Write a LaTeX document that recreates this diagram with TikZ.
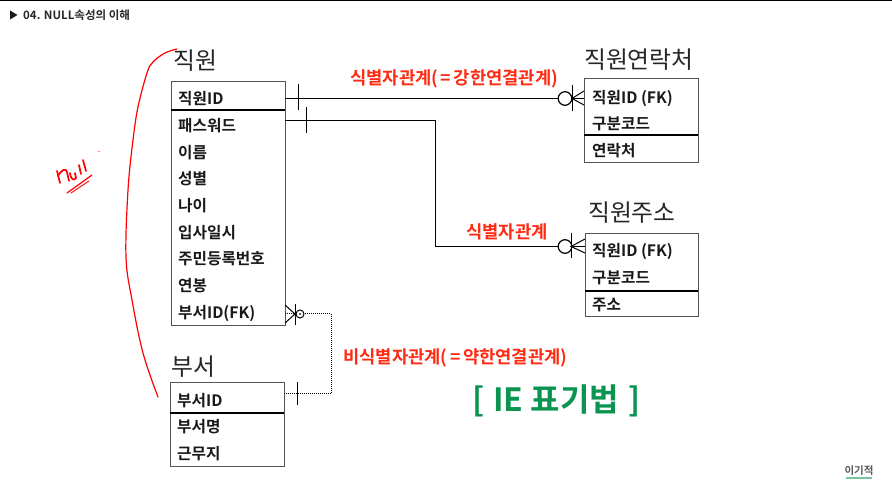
\documentclass[tikz,border=0pt]{standalone}
\usepackage{fontspec}
\setmainfont{Noto Sans CJK KR}[BoldFont={Noto Sans CJK KR Bold}]
\usetikzlibrary{calc}
\definecolor{relred}{HTML}{FF2A12}
\definecolor{iegreen}{HTML}{0B9350}
\definecolor{boxgray}{HTML}{555555}
\tikzset{
  box/.style={draw=boxgray,line width=1pt,inner sep=0pt,anchor=north west,fill=white},
  sep/.style={line width=2.6pt,black},
  title/.style={anchor=west,inner sep=0pt,font=\fontsize{23.8}{26}\selectfont,text=black!85},
  row/.style={anchor=west,inner sep=0pt,font=\fontsize{15.7}{18}\selectfont\bfseries,text=black!90},
  rel/.style={draw=black,line width=1pt},
  rellabel/.style={anchor=west,inner sep=0pt,font=\fontsize{17.7}{20}\selectfont\bfseries,text=relred},
  tick/.style={draw=black,line width=1pt},
  weak/.style={draw=black,line width=1pt,dash pattern=on 1pt off 1pt},
  stroke/.style={draw=red,line width=1.2pt,line cap=round,line join=round},
  nullstroke/.style={draw=red,line width=1.7pt,line cap=round,line join=round},
  thin stroke/.style={draw=red,line width=.9pt,line cap=round}
}
\begin{document}
\begin{tikzpicture}[x=1pt,y=-1pt]
\useasboundingbox (0,0) rectangle (892,502);
\draw[black,line width=1.2pt] (0,0.5) -- (892,0.5);
\fill[black!90] (10,10.5) -- (17.5,15) -- (10,19.5) -- cycle;
\node[anchor=west,inner sep=0pt,font=\fontsize{11.5}{13}\selectfont\bfseries,text=black!85] (head) at (23,15) {04. NULL속성의 이해};

% entities
\node[box,minimum width=114pt,minimum height=244pt] (emp) at (171,81) {};
\node[box,minimum width=114pt,minimum height=84pt] (con) at (584,78) {};
\node[box,minimum width=113pt,minimum height=83pt] (adr) at (585,233) {};
\node[box,minimum width=114pt,minimum height=84pt] (dep) at (170,382) {};
\draw[sep] (171,110) -- (285,110);
\draw[sep] (584,135) -- (698,135);
\draw[sep] (585,291) -- (698,291);
\draw[sep] (170,413) -- (284,413);

\node[title] (tEmp) at (173,61) {직원};
\node[title] (tCon) at (584,60) {직원연락처};
\node[title] (tAdr) at (588,213) {직원주소};
\node[title] (tDep) at (171,367) {부서};

\node[row] (e1) at (178,98.5) {직원ID};
\node[row] (e2) at (178,125.5) {패스워드};
\node[row] (e3) at (178,152.5) {이름};
\node[row] (e4) at (178,178.5) {성별};
\node[row] (e5) at (178,205.5) {나이};
\node[row] (e6) at (178,232.5) {입사일시};
\node[row] (e7) at (178,258.5) {주민등록번호};
\node[row] (e8) at (178,285.5) {연봉};
\node[row] (e9) at (178,313.5) {부서ID(FK)};
\node[row] (c1) at (592,98.5) {직원ID (FK)};
\node[row] (c2) at (592,123.5) {구분코드};
\node[row] (c3) at (592,150.5) {연락처};
\node[row] (a1) at (592,251.5) {직원ID (FK)};
\node[row] (a2) at (592,277.5) {구분코드};
\node[row] (a3) at (592,304.5) {주소};
\node[row] (d1) at (177,400.5) {부서ID};
\node[row] (d2) at (177,426.5) {부서명};
\node[row] (d3) at (177,453.5) {근무지};

% anchors on the entity sides
\coordinate (s1) at (285,98.5);
\coordinate (t1) at (584,98.5);
\coordinate (s2) at (285,120.5);
\coordinate (t2) at (585,246.5);
\coordinate (s3) at (285,314);
\coordinate (t3) at (284,394);

% identifying 1
\draw[rel] (s1) -- (t1);
\draw[tick] (298,84) -- (298,110);
\draw[line width=1.2pt,fill=white] (565,98.5) circle (6.8pt);
\draw[tick] (572,85) -- (572,111);
\draw[tick] (584,91) -- (572,98.5) -- (584,105);
% identifying 2
\draw[rel] (s2) -| (435,246.5) -- (t2);
\draw[tick] (306,107) -- (306,133);
\draw[line width=1.2pt,fill=white] (565,246.5) circle (6.8pt);
\draw[tick] (571,233) -- (571,258);
\draw[tick] (585,239) -- (571,246.5) -- (585,253);
% non-identifying
\draw[weak] (s3) -| (331,394) -- (t3);
\draw[tick] (285,305) -- (295,314) -- (285,323);
\draw[tick] (295,304) -- (295,325);
\draw[line width=1pt,fill=white] (300,314) circle (4pt);
\fill (300,314) circle (1pt);
\draw[tick] (297,382) -- (297,405);

% labels
\node[rellabel] (l1) at (350,78.5) {식별자관계(\hspace{2.5pt}=\hspace{2.5pt}강한연결관계)};
\node[rellabel] (l2) at (466,231.5) {식별자관계};
\node[rellabel] (l3) at (343,357.5) {비식별자관계(\hspace{2.5pt}=\hspace{2.5pt}약한연결관계)};
\node[anchor=west,inner sep=0pt,font=\fontsize{32}{35}\selectfont\bfseries,text=iegreen] (ie) at (472,401) {[\hspace{9pt}IE 표기법\hspace{9pt}]};

% hand-drawn annotation
\draw[stroke] plot[smooth,tension=.6] coordinates {(177,49) (165,53) (153,62) (147,73) (138,107) (133,140) (128,190) (126,257) (132,300) (143,353) (158,397)};
\draw[nullstroke] (57,171) -- (60,183);
\draw[nullstroke] (58,176) .. controls (62,169) and (66,168) .. (67,172) -- (69,181);
\draw[nullstroke] (70,173) .. controls (71,180) and (74,181) .. (76,178) -- (75,173);
\draw[nullstroke] (79,165) -- (81,174);
\draw[nullstroke] (83,160) -- (86,171);
\draw[stroke] (67,193) -- (92,175);
\draw[thin stroke] (71,193) -- (89,181);
\fill[red] (99,151.5) circle (.6pt);

% logo
\node[anchor=center,inner sep=0pt,font=\fontsize{10.5}{12}\selectfont\bfseries,text=black!65] (logo) at (859,471) {이기적};
\draw[draw=iegreen!55,line width=1.2pt] (846,478) -- (872,478);
\end{tikzpicture}
\end{document}
